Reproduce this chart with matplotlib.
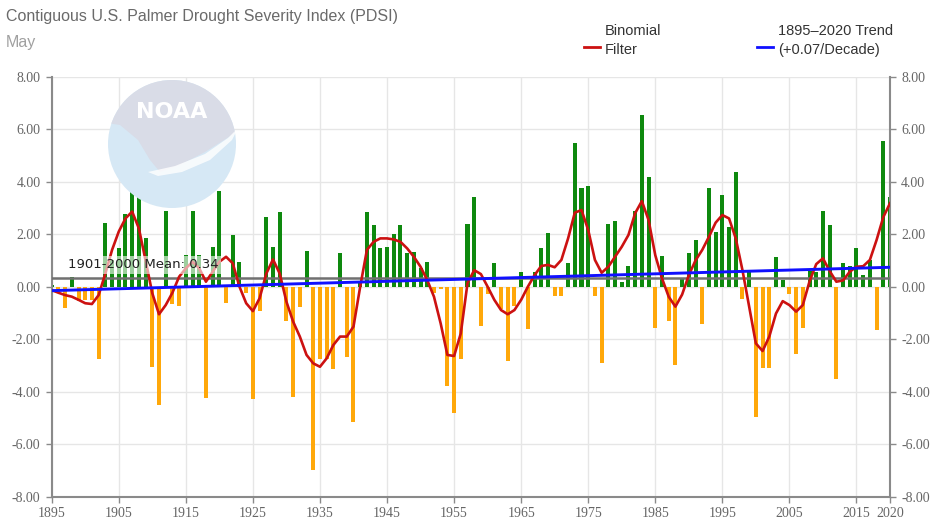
import numpy as np
import matplotlib.pyplot as plt
from matplotlib.patches import Circle, Polygon

# May PDSI, contiguous U.S., 1895-2020
years = np.arange(1895, 2021)
pdsi = [
    0.08, -0.20, -0.83, 0.38, -0.55, -0.50, -0.50, -2.76, 2.44, 1.00,    # 1895-1904
    1.46, 2.76, 4.34, 3.90, 1.87, -3.05, -4.51, 2.90, -0.66, -0.74,      # 1905-1914
    1.20, 2.90, 1.20, -4.23, 1.52, 3.64, -0.63, 1.97, 0.93, -0.25,       # 1915-1924
    -4.28, -0.93, 2.65, 1.52, 2.84, -1.31, -4.19, -0.78, 1.37, -6.98,    # 1925-1934
    -2.76, -2.75, -3.15, 1.27, -2.67, -5.17, 0.20, 2.86, 2.35, 1.46,     # 1935-1944
    1.52, 2.00, 2.35, 1.27, 1.33, 0.70, 0.93, -0.25, -0.10, -3.78,       # 1945-1954
    -4.83, -2.77, 2.39, 3.43, -1.50, -0.28, 0.91, -0.86, -2.84, -0.74,   # 1955-1964
    0.57, -1.61, 0.57, 1.46, 2.06, -0.34, -0.34, 0.89, 5.46, 3.75,       # 1965-1974
    3.83, -0.34, -2.90, 2.40, 2.50, 0.19, 0.79, 2.90, 6.54, 4.19,        # 1975-1984
    -1.56, 1.18, -1.31, -3.00, 0.30, 1.27, 1.78, -1.42, 3.75, 2.10,      # 1985-1994
    3.49, 2.26, 4.38, -0.48, 0.57, -4.95, -3.10, -3.10, 1.13, 0.24,      # 1995-2004
    -0.28, -2.57, -1.56, 0.60, 0.57, 2.89, 2.35, -3.53, 0.89, 0.78,      # 2005-2014
    1.46, 0.44, 1.02, -1.66, 5.55, 3.43,                                 # 2015-2020
]
binomial = [
    -0.13, -0.23, -0.32, -0.38, -0.50, -0.63, -0.66, -0.32, 0.50, 1.40,
    2.10, 2.60, 2.86, 2.22, 1.00, -0.25, -1.05, -0.70, -0.23, 0.38,
    0.70, 0.95, 0.70, 0.19, 0.57, 0.95, 1.14, 0.89, 0.00, -0.63,
    -0.93, -0.44, 0.50, 1.04, 0.50, -0.57, -1.33, -1.90, -2.60, -2.92,
    -3.05, -2.73, -2.22, -1.90, -1.90, -1.52, 0.00, 1.40, 1.71, 1.84,
    1.84, 1.80, 1.71, 1.46, 1.14, 0.76, 0.25, -0.38, -1.40, -2.60,
    -2.64, -1.78, 0.13, 0.63, 0.48, 0.00, -0.50, -0.89, -1.05, -0.89,
    -0.50, 0.00, 0.44, 0.79, 0.83, 0.74, 1.02, 1.84, 2.82, 2.92,
    2.16, 1.02, 0.53, 0.76, 1.14, 1.52, 1.97, 2.80, 3.26, 2.54,
    1.20, 0.32, -0.38, -0.76, -0.30, 0.44, 1.00, 1.40, 1.90, 2.44,
    2.73, 2.60, 1.84, 0.63, -0.76, -2.16, -2.45, -1.90, -1.02, -0.55,
    -0.70, -0.95, -0.70, 0.20, 0.86, 1.08, 0.60, 0.19, 0.24, 0.57,
    0.76, 0.78, 1.02, 1.78, 2.65, 3.18,
]
trend_years = [1895, 2020]
trend_vals = [-0.15, 0.74]
mean_1901_2000 = 0.34

xticks = [1895, 1905, 1915, 1925, 1935, 1945, 1955, 1965, 1975, 1985, 1995, 2005, 2015, 2020]
yticks = [-8, -6, -4, -2, 0, 2, 4, 6, 8]

W, H = 934, 519
fig = plt.figure(figsize=(W / 100, H / 100), dpi=100)
ax = fig.add_axes([51.7 / W, 1 - 496.7 / H, (890 - 51.7) / W, (496.7 - 76.7) / H])

def px(x, y):
    return (x / W, 1 - y / H)

# faint NOAA watermark (pixel coords, origin top-left converted)
def dp(pts):
    return [(x, H - y) for x, y in pts]

cx, cy, r = 172, 144, 64
circ = Circle((cx, H - cy), r, transform=None, facecolor='#d6e8f5', edgecolor='none', zorder=0)
fig.patches.append(circ)
top = Polygon(dp([(100, 70), (250, 70), (250, 120), (232, 135), (205, 152), (180, 165),
                  (160, 172), (150, 160), (138, 140), (120, 125), (100, 122)]),
              closed=True, transform=None, facecolor='#d9dce7', edgecolor='none', zorder=0)
top.set_clip_path(circ)
fig.patches.append(top)
swoop = Polygon(dp([(148, 172), (175, 166), (205, 154), (228, 138), (238, 128), (232, 140),
                    (210, 160), (182, 172), (158, 176)]),
                closed=True, transform=None, facecolor='white', edgecolor='none', zorder=0, alpha=0.8)
swoop.set_clip_path(circ)
fig.patches.append(swoop)
fig.text(*px(172, 112), 'NOAA', color='white', fontsize=16, fontweight='bold',
         ha='center', va='center', zorder=0, family='DejaVu Sans')
ax.patch.set_alpha(0)

colors = ['#0e890e' if v >= 0 else '#ffa80a' for v in pdsi]
ax.bar(years, pdsi, width=0.6, color=colors, zorder=2)
ax.axhline(mean_1901_2000, color='#707070', lw=1.8, zorder=3)
ax.plot(years, binomial, color='#cc1111', lw=1.9, zorder=4)
ax.plot(trend_years, trend_vals, color='#1010ff', lw=2.1, zorder=5)

ax.text(1897.4, mean_1901_2000 + 0.49, '1901-2000 Mean: 0.34', fontsize=9.5, color='#222222',
        va='center', ha='left', zorder=6, family='DejaVu Sans',
        bbox=dict(facecolor='white', alpha=0.6, edgecolor='none', pad=1.5))

ax.set_xlim(1895, 2020)
ax.set_ylim(-8, 8)
ax.set_xticks(xticks)
ax.set_yticks(yticks)
ax.set_yticklabels(['%.2f' % v for v in yticks])
ax.grid(True, color='#e6e6e6', lw=1.0, zorder=0)
ax.set_axisbelow(True)
ax.spines['top'].set_visible(False)
for s in ['left', 'right', 'bottom']:
    ax.spines[s].set_color('#8a8a8a')
    ax.spines[s].set_linewidth(1.5)
ax.tick_params(axis='both', colors='#8a8a8a', labelcolor='#666666', labelsize=10, length=4, width=1)
ax.tick_params(axis='y', right=True, labelright=True, pad=4)
for lab in ax.get_xticklabels() + ax.get_yticklabels():
    lab.set_family(['Liberation Serif', 'DejaVu Serif'])

sans = ['Liberation Sans', 'DejaVu Sans']
fig.text(*px(6, 17), 'Contiguous U.S. Palmer Drought Severity Index (PDSI)', fontsize=11.5,
         color='#6a6a6a', va='center', ha='left', family=sans)
fig.text(*px(6, 43), 'May', fontsize=11.5, color='#a0a0a0', va='center', ha='left', family=sans)

# legend
fig.lines.append(plt.Line2D([584 / W, 600 / W], [1 - 47 / H] * 2, color='#cc1111', lw=2, transform=fig.transFigure))
fig.text(*px(605, 31), 'Binomial', fontsize=10.5, color='#333333', va='center', ha='left', family=sans)
fig.text(*px(605, 50), 'Filter', fontsize=10.5, color='#333333', va='center', ha='left', family=sans)
fig.lines.append(plt.Line2D([757 / W, 773 / W], [1 - 47 / H] * 2, color='#1010ff', lw=2, transform=fig.transFigure))
fig.text(*px(778, 31), '1895\u20132020 Trend', fontsize=10.5, color='#333333', va='center', ha='left', family=sans)
fig.text(*px(778, 50), '(+0.07/Decade)', fontsize=10.5, color='#333333', va='center', ha='left', family=sans)

fig.savefig('out.png', dpi=100)
